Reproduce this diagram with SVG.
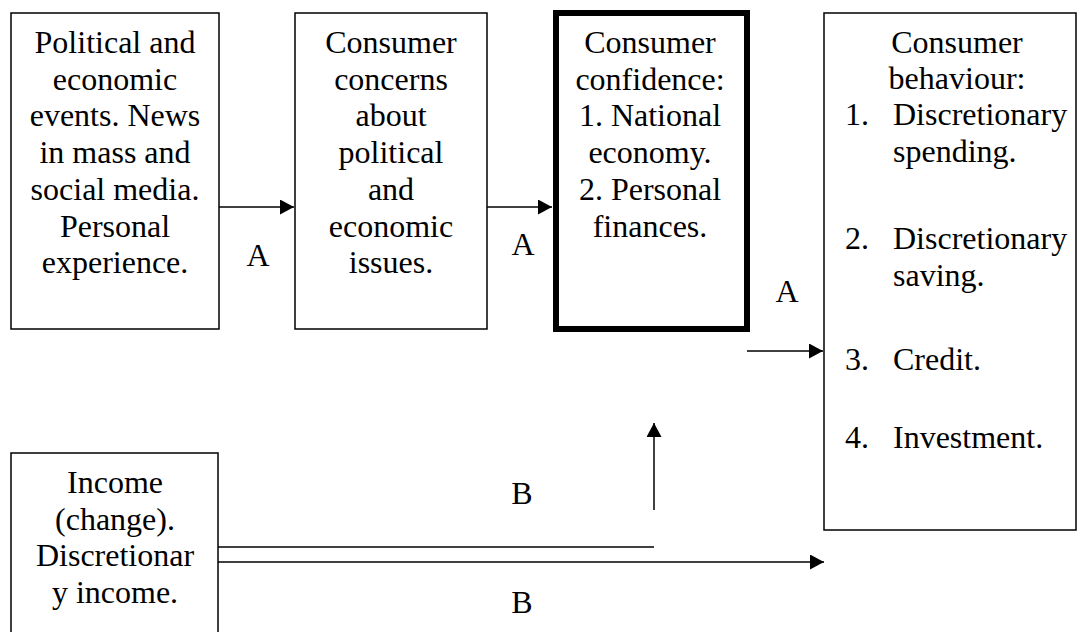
<svg xmlns="http://www.w3.org/2000/svg" width="1078" height="632" viewBox="0 0 1078 632">
<style>
.box{fill:#fff;stroke:#000;stroke-width:1.5}
.thick{fill:#fff;stroke:#000;stroke-width:6}
text{font-family:"Liberation Serif","Times New Roman",serif;font-size:32px;fill:#000}
.c{text-anchor:middle}
.ln{stroke:#000;stroke-width:1.5;fill:none}
</style>
<defs>
<marker id="ah" markerUnits="userSpaceOnUse" markerWidth="15" markerHeight="15" refX="14" refY="7.5" orient="auto">
<path d="M0,0 L14,7.5 L0,15 z" fill="#000"/>
</marker>
</defs>
<rect width="1078" height="632" fill="#fff"/>
<g id="connectors">
<line class="ln" x1="219" y1="207" x2="294" y2="207" marker-end="url(#ah)"/>
<line class="ln" x1="487" y1="207" x2="552" y2="207" marker-end="url(#ah)"/>
<line class="ln" x1="747" y1="351" x2="823" y2="351" marker-end="url(#ah)"/>
<line class="ln" x1="654" y1="510" x2="654" y2="423" marker-end="url(#ah)"/>
<line class="ln" x1="218" y1="547" x2="654" y2="547"/>
<line class="ln" x1="218" y1="562" x2="824" y2="562" marker-end="url(#ah)"/>
<text class="c" x="258" y="266">A</text>
<text class="c" x="523" y="255">A</text>
<text class="c" x="787" y="302">A</text>
<text class="c" x="522" y="504">B</text>
<text class="c" x="522" y="613">B</text>
</g>
<g id="node-events">
<rect class="box" x="11" y="13" width="208" height="316"/>
<text class="c" x="115" y="53">Political and</text>
<text class="c" x="115" y="89.7">economic</text>
<text class="c" x="115" y="126.4">events. News</text>
<text class="c" x="115" y="163.1">in mass and</text>
<text class="c" x="115" y="199.8">social media.</text>
<text class="c" x="115" y="236.5">Personal</text>
<text class="c" x="115" y="273.2">experience.</text>
</g>
<g id="node-concerns">
<rect class="box" x="295" y="13" width="192" height="316"/>
<text class="c" x="391" y="53">Consumer</text>
<text class="c" x="391" y="89.7">concerns</text>
<text class="c" x="391" y="126.4">about</text>
<text class="c" x="391" y="163.1">political</text>
<text class="c" x="391" y="199.8">and</text>
<text class="c" x="391" y="236.5">economic</text>
<text class="c" x="391" y="273.2">issues.</text>
</g>
<g id="node-confidence">
<rect class="thick" x="556" y="13" width="191" height="316"/>
<text class="c" x="650" y="53">Consumer</text>
<text class="c" x="650" y="89.7">confidence:</text>
<text class="c" x="650" y="126.4">1. National</text>
<text class="c" x="650" y="163.1">economy.</text>
<text class="c" x="650" y="199.8">2. Personal</text>
<text class="c" x="650" y="236.5">finances.</text>
</g>
<g id="node-behaviour">
<rect class="box" x="824" y="13" width="252" height="517"/>
<text class="c" x="957" y="53">Consumer</text>
<text class="c" x="957" y="89">behaviour:</text>
<text x="845" y="125">1.</text>
<text x="893" y="125">Discretionary</text>
<text x="893" y="162">spending.</text>
<text x="845" y="249">2.</text>
<text x="893" y="249">Discretionary</text>
<text x="893" y="286">saving.</text>
<text x="845" y="370">3.</text>
<text x="893" y="370">Credit.</text>
<text x="845" y="448">4.</text>
<text x="893" y="448">Investment.</text>
</g>
<g id="node-income">
<rect class="box" x="11" y="453" width="207" height="190"/>
<text class="c" x="115" y="493">Income</text>
<text class="c" x="115" y="529.7">(change).</text>
<text class="c" x="115" y="566.4">Discretionar</text>
<text class="c" x="115" y="603.1">y income.</text>
</g>
</svg>
